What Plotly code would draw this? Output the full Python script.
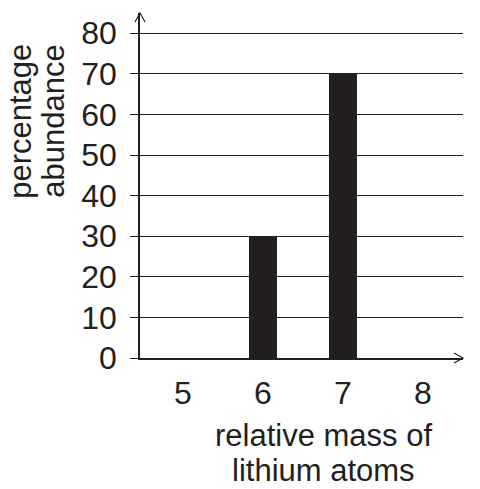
import plotly.graph_objects as go

masses = [5, 6, 7, 8]
abundance = [0, 30, 70, 0]
tick_labels = ["5", "6", "7", "8"]
y_ticks = [0, 10, 20, 30, 40, 50, 60, 70, 80]

FONT = "Liberation Sans, Arial, sans-serif"
INK = "#231f20"
FS = 31
TFS = 32

fig = go.Figure()
fig.add_trace(go.Bar(
    x=masses, y=abundance, width=0.35,
    marker=dict(color=INK, line=dict(width=0)),
    hoverinfo="skip",
))

def ann(text, x, y, angle=0):
    return dict(text=text, xref="paper", yref="paper", x=x, y=y,
                xanchor="center", yanchor="middle", textangle=angle,
                showarrow=False, font=dict(size=FS, family=FONT, color=INK))

fig.update_layout(
    width=480, height=489,
    margin=dict(l=140, r=17, t=13, b=131),
    plot_bgcolor="white", paper_bgcolor="white",
    showlegend=False,
    font=dict(family=FONT, size=FS, color=INK),
    xaxis=dict(
        range=[4.4625, 8.5],
        tickmode="array", tickvals=masses, ticktext=tick_labels,
        showgrid=False, zeroline=False,
        showline=True, linecolor=INK, linewidth=1.5,
        ticks="", ticklabelstandoff=6,
        tickfont=dict(size=TFS, family=FONT, color=INK),
    ),
    yaxis=dict(
        range=[0, 85],
        tickmode="array", tickvals=y_ticks,
        showgrid=True, gridcolor=INK, gridwidth=1,
        zeroline=False,
        showline=True, linecolor=INK, linewidth=1.5,
        ticks="outside", ticklen=8, tickwidth=1, tickcolor=INK,
        ticklabelstandoff=7,
        tickfont=dict(size=TFS, family=FONT, color=INK),
    ),
    shapes=[
        dict(type="path", xref="paper", yref="paper", xsizemode="pixel", ysizemode="pixel",
             xanchor=0, yanchor=1, path="M -5,-9 L 0,0 L 5,-9",
             line=dict(color=INK, width=1.2)),
        dict(type="path", xref="paper", yref="paper", xsizemode="pixel", ysizemode="pixel",
             xanchor=1, yanchor=0, path="M -9,5 L 0,0 L -9,-5",
             line=dict(color=INK, width=1.2)),
    ],
    annotations=[
        ann("percentage", -0.368, 0.685, -90),
        ann("abundance", -0.266, 0.685, -90),
        ann("relative mass of", 0.5666, -0.226),
        ann("lithium atoms", 0.5666, -0.325),
    ],
)

fig.write_html("out.html", config={"displayModeBar": False},
               post_script="document.body.style.margin='0';")
